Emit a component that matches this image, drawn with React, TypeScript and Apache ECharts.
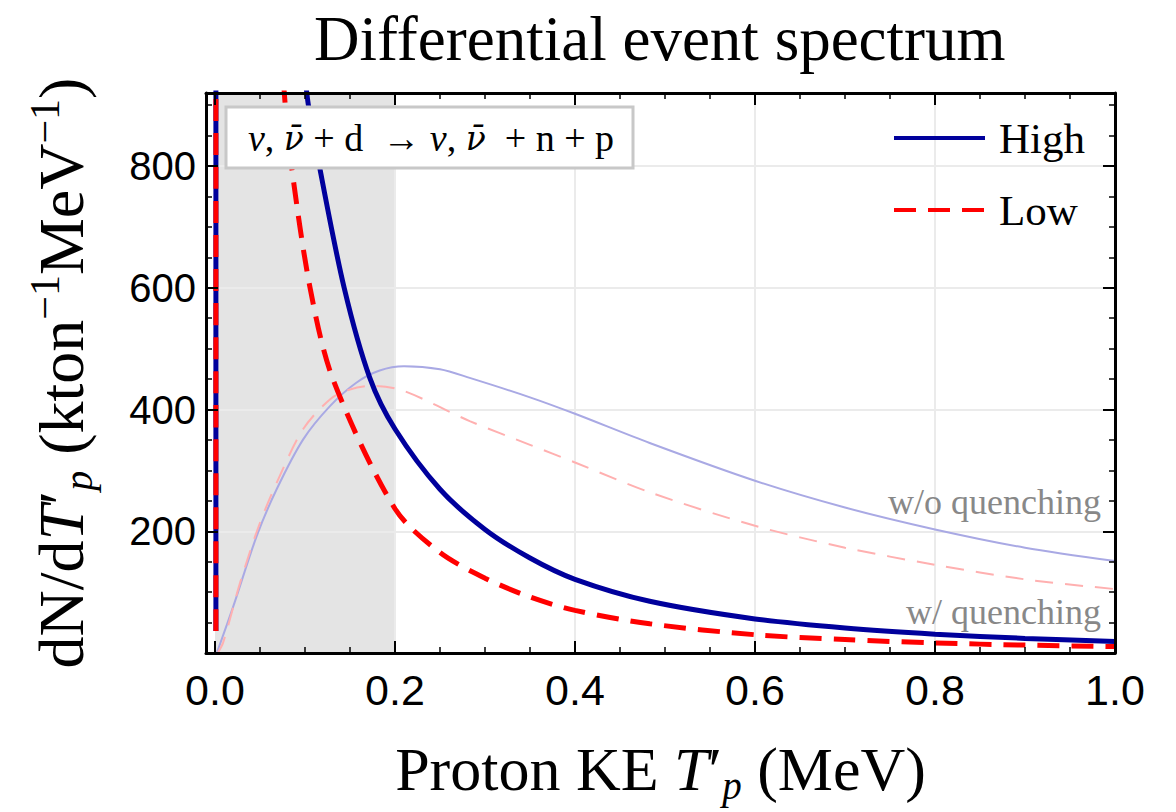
import React, { useEffect, useRef } from 'react';
import * as echarts from 'echarts';

// ---- axis ranges & ticks ----
const X_MIN = -0.01;
const X_MAX = 1.0;
const Y_MIN = 0;
const Y_MAX = 920;
const xMajorTicks = [0, 0.2, 0.4, 0.6, 0.8, 1.0];
const xMinorTicks = [0.05, 0.1, 0.15, 0.25, 0.3, 0.35, 0.45, 0.5, 0.55, 0.65, 0.7, 0.75, 0.85, 0.9, 0.95];
const yMajorTicks = [0, 200, 400, 600, 800];
const yMinorTicks = [50, 100, 150, 250, 300, 350, 450, 500, 550, 650, 700, 750, 850, 900];
const yTickLabels = [200, 400, 600, 800];
const xGridLines = [0.2, 0.4, 0.6, 0.8];
const yGridLines = [200, 400, 600, 800];
const shadedRange = [0, 0.2];

// ---- series data ----
// High, with quenching (thick solid navy)
const highX = [0.001, 0.001, 0.0012, 0.05, 0.08, 0.102, 0.116, 0.1435, 0.172, 0.2, 0.25, 0.3, 0.35, 0.4, 0.483, 0.6, 0.7, 0.8, 0.9, 1.0];
const highY = [36, 1000, 3000, 2200, 1300, 920, 800, 600, 452, 368, 269, 203, 156, 121, 85, 56, 41, 31, 24, 19];
// Low, with quenching (thick dashed red)
const lowX = [0.001, 0.001, 0.0012, 0.04, 0.065, 0.077, 0.085, 0.1056, 0.131, 0.2, 0.25, 0.3, 0.35, 0.4, 0.483, 0.6, 0.7, 0.8, 0.9, 1.0];
const lowY = [36, 1000, 3000, 2000, 1200, 920, 800, 600, 450, 237, 165, 123, 92, 70, 48, 30, 22, 16.5, 13, 10.5];
// High, without quenching (thin light blue)
const highNoQX = [0.002, 0.0204, 0.0463, 0.0685, 0.098, 0.128, 0.157, 0.183, 0.21, 0.25, 0.283, 0.35, 0.4, 0.483, 0.6, 0.7, 0.8, 0.9, 1.0];
const highNoQY = [0, 77, 192, 269, 351, 406, 444, 464, 471, 466, 452, 420, 393, 345, 283, 239, 203, 173, 151];
// Low, without quenching (thin dashed pink)
const lowNoQX = [0.003, 0.009, 0.028, 0.05, 0.072, 0.098, 0.128, 0.15, 0.175, 0.209, 0.283, 0.35, 0.4, 0.483, 0.6, 0.7, 0.8, 0.9, 1.0];
const lowNoQY = [0, 17, 116, 214, 291, 368, 417, 433, 439, 431, 381, 342, 313, 264, 209, 173, 145, 121, 105];

const zip = (xs: number[], ys: number[]) => xs.map((x, i) => [x, ys[i]]);

const SERIF = '"Liberation Serif", "Times New Roman", serif';
const SANS = '"Liberation Sans", Arial, sans-serif';

const makeX = (position: string, ticks: number[], len: number, major: boolean, labels: boolean, extra: any = {}) => ({
  type: 'value',
  position,
  min: X_MIN,
  max: X_MAX,
  z: 6,
  axisLine: { show: major, onZero: false, lineStyle: { color: '#000', width: 3 } },
  axisTick: { show: true, inside: true, length: len, customValues: ticks, lineStyle: { color: '#000', width: major ? 2 : 1.5 } },
  axisLabel: labels
    ? { show: true, customValues: xMajorTicks, formatter: (v: number) => v.toFixed(1), fontFamily: SANS, fontSize: 43, color: '#000', margin: 15 }
    : { show: false },
  splitLine: { show: false },
  minorTick: { show: false },
  ...extra,
});

const makeY = (position: string, ticks: number[], len: number, major: boolean, labels: boolean, extra: any = {}) => ({
  type: 'value',
  position,
  min: Y_MIN,
  max: Y_MAX,
  z: 6,
  axisLine: { show: major, onZero: false, lineStyle: { color: '#000', width: 3 } },
  axisTick: { show: true, inside: true, length: len, customValues: ticks, lineStyle: { color: '#000', width: major ? 2 : 1.5 } },
  axisLabel: labels
    ? { show: true, customValues: yTickLabels, fontFamily: SANS, fontSize: 40, color: '#000', margin: 10 }
    : { show: false },
  splitLine: { show: false },
  minorTick: { show: false },
  ...extra,
});

const makeRich = (fs: number) => ({
  r: { fontFamily: SERIF, fontSize: fs, lineHeight: fs + 10, color: '#000' },
  i: { fontFamily: SERIF, fontSize: fs, lineHeight: fs + 10, fontStyle: 'italic', color: '#000' },
  sub: { fontFamily: SERIF, fontSize: Math.round(fs * 0.63), lineHeight: Math.round(fs * 0.6), fontStyle: 'italic', verticalAlign: 'bottom', color: '#000' },
  sup: { fontFamily: SERIF, fontSize: Math.round(fs * 0.66), lineHeight: Math.round(fs * 0.66), verticalAlign: 'top', color: '#000' },
});

export default function App() {
  const ref = useRef<HTMLDivElement>(null);
  useEffect(() => {
    document.body.style.margin = '0';
    const chart = echarts.init(ref.current as HTMLDivElement, null, { renderer: 'svg' });
    const option: any = {
      animation: false,
      backgroundColor: '#fff',
      title: {
        text: 'Differential event spectrum',
        left: 314,
        top: 7,
        padding: 0,
        textStyle: { fontFamily: SERIF, fontSize: 63, fontWeight: 'normal', color: '#000' },
      },
      grid: { left: 206, right: 61, top: 93, bottom: 159, outerBoundsMode: 'none', containLabel: false },
      legend: {
        data: ['High', 'Low'],
        orient: 'vertical',
        left: 887,
        top: 108,
        itemWidth: 91,
        itemHeight: 2,
        itemGap: 22,
        selectedMode: false,
        itemStyle: { opacity: 0, borderWidth: 0 },
        lineStyle: { width: 4 },
        textStyle: { fontFamily: SERIF, fontSize: 43, color: '#000', lineHeight: 50, padding: [0, 0, 0, 9] },
      },
      xAxis: [
        makeX('bottom', xMajorTicks, 12, true, true, {
          name: '{r|Proton KE }{i|T}{r|′}{sub|p}{r| (MeV)}',
          nameLocation: 'middle',
          nameGap: 80,
          nameMoveOverlap: false,
          nameTextStyle: { fontFamily: SERIF, fontSize: 62, color: '#000', rich: makeRich(62) },
        }),
        makeX('bottom', xMinorTicks, 6, false, false),
        makeX('top', xMajorTicks, 12, true, false),
        makeX('top', xMinorTicks, 6, false, false),
      ],
      yAxis: [
        makeY('left', yMajorTicks, 12, true, true, {
          name: '{r|dN/d}{i|T}{r|′}{sub|p}{r| (kton}{sup|−1}{r|MeV}{sup|−1}{r|)}',
          nameLocation: 'middle',
          nameRotate: 90,
          nameGap: 108,
          nameMoveOverlap: false,
          nameTextStyle: { fontFamily: SERIF, fontSize: 64, color: '#000', rich: makeRich(64) },
        }),
        makeY('left', yMinorTicks, 6, false, false),
        makeY('right', yMajorTicks, 12, true, false),
        makeY('right', yMinorTicks, 6, false, false),
      ],
      series: [
        {
          name: 'shade',
          type: 'line',
          data: [],
          z: 1,
          silent: true,
          markArea: {
            silent: true,
            z: 1,
            itemStyle: { color: '#e4e4e4' },
            data: [[{ xAxis: shadedRange[0] }, { xAxis: shadedRange[1] }]],
          },
        },
        {
          name: 'gridlines',
          type: 'line',
          data: [],
          z: 1,
          silent: true,
          markLine: {
            silent: true,
            z: 1.5,
            symbol: ['none', 'none'],
            label: { show: false },
            emphasis: { disabled: true },
            lineStyle: { color: '#ebebeb', width: 2, type: 'solid' },
            data: [...xGridLines.map((v) => ({ xAxis: v })), ...yGridLines.map((v) => ({ yAxis: v }))],
          },
        },
        {
          name: 'High w/o quenching',
          type: 'line',
          data: zip(highNoQX, highNoQY),
          symbol: 'none',
          smooth: 0.3,
          z: 2,
          silent: true,
          itemStyle: { color: '#a9a9e4' },
          lineStyle: { color: '#a9a9e4', width: 2 },
        },
        {
          name: 'Low w/o quenching',
          type: 'line',
          data: zip(lowNoQX, lowNoQY),
          symbol: 'none',
          smooth: 0.3,
          z: 3,
          silent: true,
          itemStyle: { color: '#ffb0b0' },
          lineStyle: { color: '#ffb0b0', width: 2, type: [18, 12] },
        },
        {
          name: 'High',
          type: 'line',
          data: zip(highX, highY),
          symbol: 'none',
          smooth: 0.3,
          z: 4,
          silent: true,
          itemStyle: { color: '#00009c' },
          lineStyle: { color: '#00009c', width: 5 },
        },
        {
          name: 'Low',
          type: 'line',
          data: zip(lowX, lowY),
          symbol: 'none',
          smooth: 0.3,
          z: 5,
          silent: true,
          itemStyle: { color: '#ff0000' },
          lineStyle: { color: '#ff0000', width: 5, type: [22, 12] },
        },
      ],
      graphic: [
        {
          type: 'rect',
          z: 100,
          shape: { x: 226, y: 107, width: 407, height: 61 },
          style: { fill: '#fff', stroke: '#c8c8c8', lineWidth: 3 },
        },
        {
          type: 'text',
          z: 101,
          x: 431,
          y: 138,
          style: {
            text: '{i|ν}, {b|ν̄} + d\u00a0 → {i|ν}, {b|ν̄}\u00a0 + n + p',
            font: `38px ${SERIF}`,
            fill: '#000',
            textAlign: 'center',
            textVerticalAlign: 'middle',
            rich: {
              i: { fontFamily: SERIF, fontSize: 38, fontStyle: 'italic', fill: '#000' },
              b: { fontFamily: '"DejaVu Serif", serif', fontSize: 33, fontStyle: 'italic', fill: '#000' },
            },
          },
        },
        {
          type: 'text',
          z: 101,
          x: 1101,
          y: 502,
          style: {
            text: 'w/o quenching',
            font: `36px ${SERIF}`,
            fill: '#888',
            textAlign: 'right',
            textVerticalAlign: 'middle',
          },
        },
        {
          type: 'text',
          z: 101,
          x: 1101,
          y: 612,
          style: {
            text: 'w/ quenching',
            font: `36px ${SERIF}`,
            fill: '#888',
            textAlign: 'right',
            textVerticalAlign: 'middle',
          },
        },
      ],
    };
    chart.setOption(option);
    return () => chart.dispose();
  }, []);
  return <div ref={ref} style={{ width: 1176, height: 812 }} />;
}
